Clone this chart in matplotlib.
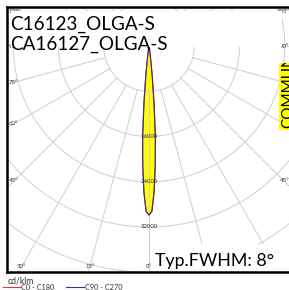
import numpy as np
import matplotlib
matplotlib.use("Agg")
import matplotlib.pyplot as plt
from matplotlib.patches import Rectangle
from matplotlib.transforms import Bbox, TransformedBbox

plt.rcParams['font.family'] = ['Lato', 'DejaVu Sans']

# luminous intensity, cd/klm, per gamma angle (deg)
angles = [0, 1, 2, 3, 4, 5, 6, 7, 8, 9, 10, 12, 15, 20, 30, 45, 60, 90]
c0_c180 = [29900, 29300, 26000, 21300, 16300, 10600, 5900, 2900, 1300, 600, 300, 150, 80, 40, 15, 5, 2, 0]
c90_c270 = [29900, 29200, 25700, 21000, 16000, 10200, 5600, 2700, 1200, 550, 280, 140, 75, 38, 14, 5, 2, 0]
series_names = ["C0 - C180", "C90 - C270"]
series_colors = ["#d83a3a", "#33339a"]

ring_values = [8000, 16000, 24000, 32000, 40000, 48000, 56000]
ring_labels = [16000, 24000, 32000]
spoke_angles = np.arange(0, 360, 15)
label_angles = [0, 15, 30, 45, 60, 75, 90, 105]

title_lines = ["C16123_OLGA-S", "CA16127_OLGA-S"]
fwhm_text = "Typ.FWHM: 8°"
unit = "cd/klm"
badge = "COMMUNICATION"

W, H = 289, 290
fig = plt.figure(figsize=(W / 100, H / 100), dpi=100)

# pixel layout of the frame and polar centre
cx, cy = 149, 46
s = 181 / 32000  # px per cd/klm
left, right, top, bottom = 7, 291, 7, 272

ax = fig.add_axes([left / W, 1 - bottom / H, (right - left) / W, (bottom - top) / H])
ax.set_xlim((left - cx) / s, (right - cx) / s)
ax.set_ylim(-(bottom - cy) / s, (cy - top) / s)
ax.set_xticks([])
ax.set_yticks([])
for sp in ax.spines.values():
    sp.set_linewidth(1.8)
    sp.set_color("black")


def to_xy(th_deg, r):
    th = np.radians(th_deg)
    return np.asarray(r) * np.sin(th), -np.asarray(r) * np.cos(th)


# grid
grid_kw = dict(color="#cfcfcf", lw=0.7, zorder=2)
t = np.linspace(0, 360, 361)
for r in ring_values:
    gx, gy = to_xy(t, np.full_like(t, r))
    ax.plot(gx, gy, **grid_kw)
for a in spoke_angles:
    gx, gy = to_xy(np.array([a, a]), np.array([ring_values[0], 70000]))
    ax.plot(gx, gy, **grid_kw)

for r in ring_labels:
    ax.text(0, -r, str(r), fontsize=4.3, color="#333333", ha="center", va="center", zorder=6)

# beam curves (mirrored to the opposite half-plane)
lines = []
for i, vals in enumerate([c0_c180, c90_c270]):
    a = np.array(angles, float)
    v = np.array(vals, float)
    th = np.concatenate([-a[::-1], a[1:]])
    rr = np.concatenate([v[::-1], v[1:]])
    bx, by = to_xy(th, rr)
    if i == 1:
        ax.fill(bx, by, color="#ffff00", zorder=1)
    ln, = ax.plot(bx, by, color=series_colors[i], lw=0.8, zorder=3 + i)
    lines.append(ln)

# angle labels at the frame edge
hw, hh = 6, 3.5
xl, xr, yt, yb = left + 1 + hw, right - 2 - hw, top + 1 + hh, bottom - 2 - hh
for a in label_angles:
    for side in ([-1, 1] if a else [1]):
        th = np.radians(a)
        dx, dy = side * np.sin(th), np.cos(th)
        px, ha = None, None
        if dy > 0:
            tb = (yb - cy) / dy
            xb = cx + tb * dx
            if xl <= xb <= xr:
                px, py, ha = xb, yb, "center"
            else:
                tx = ((xl - cx) if side < 0 else (xr - cx)) / dx
                py = cy + tx * dy
        else:
            tx = ((xl - cx) if side < 0 else (xr - cx)) / dx
            py = max(cy + tx * dy, yt)
        if ha is None:
            if side < 0:
                px, ha = left + 1.5, "left"
            else:
                px, ha = right - 1.5, "right"
        ax.text((px - cx) / s, -(py - cy) / s, f"{a}°", fontsize=4.3,
                color="#333333", ha=ha, va="center", zorder=6, clip_on=False)

# legend under the frame
ax.legend(lines, series_names, loc="center left",
          bbox_to_anchor=(3 / W, 1 - 287 / H), bbox_transform=fig.transFigure,
          frameon=False, ncol=2, fontsize=5.3,
          handlelength=2.4, handletextpad=0.1, columnspacing=1.6,
          borderpad=0, borderaxespad=0, labelspacing=0, labelcolor="#333333")

# overlay in pixel coordinates
ov = fig.add_axes([0, 0, 1, 1], zorder=5)
ov.set_xlim(0, W)
ov.set_ylim(H, 0)
ov.axis("off")
ov.text(7.5, 280.5, unit, fontsize=6.2, color="#333333", ha="left", va="center")
ov.add_patch(Rectangle((10.5, 10.5), 271.5, 36.5, fc="white", ec="none"))
ov.text(10.5, 30, title_lines[0], fontsize=13.6, va="baseline", ha="left")
ov.text(10.5, 49.5, title_lines[1], fontsize=13.6, va="baseline", ha="left")
ov.add_patch(Rectangle((152, 244), 130, 26.5, fc="white", ec="none"))
ov.text(155, 266, fwhm_text, fontsize=12.8, va="baseline", ha="left")
ov.add_patch(Rectangle((279, 63), 12, 67, fc="#ffff00", ec="none"))
bt = ov.text(281, 128, badge, fontsize=11, rotation=90, ha="left", va="bottom")
bt.set_clip_box(TransformedBbox(Bbox.from_extents(279, 63, 291, 130), ov.transData))
bt.set_clip_on(True)

fig.savefig("out.png", dpi=100)
